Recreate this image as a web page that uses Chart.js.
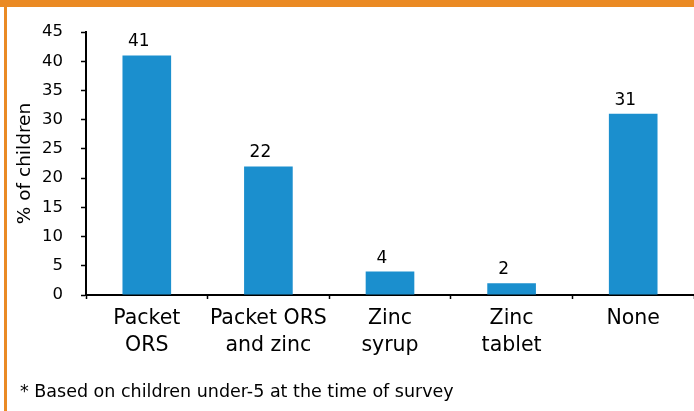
<!DOCTYPE html>
<html>
<head>
<meta charset="utf-8">
<script src="https://cdn.jsdelivr.net/npm/chart.js@4/dist/chart.umd.min.js"></script>
<style>
  html, body { margin: 0; padding: 0; background: #fff; }
  #wrap { position: relative; width: 694px; height: 411px; overflow: hidden; background: #fff; }
  #c { position: absolute; left: 0; top: 0; }
  #topbar { position: absolute; left: 0; top: 0; width: 694px; height: 7px; background: #ea8a24; }
  #leftbar { position: absolute; left: 4px; top: 0; width: 3px; height: 411px; background: #ea8a24; }
  #note { position: absolute; left: 20px; top: 381px; font-family: "DejaVu Sans", sans-serif; font-size: 17.5px; line-height: 20px; color: #000; white-space: nowrap; }
</style>
</head>
<body>
<div id="wrap">
  <canvas id="c" width="694" height="411"></canvas>
  <div id="topbar"></div>
  <div id="leftbar"></div>
  <div id="note">* Based on children under-5 at the time of survey</div>
</div>
<script>
const categories = [["Packet", "ORS"], ["Packet ORS", "and zinc"], ["Zinc", "syrup"], ["Zinc", "tablet"], "None"];
const values = [41, 22, 4, 2, 31];
const yTicks = [0, 5, 10, 15, 20, 25, 30, 35, 40, 45];
const yTitle = "% of children";

const FONT = '"DejaVu Sans", sans-serif';

const valueLabels = {
  id: 'valueLabels',
  afterDatasetsDraw(chart) {
    const ctx = chart.ctx;
    const meta = chart.getDatasetMeta(0);
    ctx.save();
    ctx.font = '17px ' + FONT;
    ctx.fillStyle = '#000';
    ctx.textAlign = 'center';
    ctx.textBaseline = 'alphabetic';
    meta.data.forEach((bar, i) => {
      ctx.fillText(String(values[i]), bar.x - 8, bar.y - 9);
    });
    ctx.restore();
  }
};

new Chart(document.getElementById('c'), {
  type: 'bar',
  data: {
    labels: categories,
    datasets: [{
      data: values,
      backgroundColor: '#1b8fce',
      borderWidth: 0,
      barPercentage: 0.4,
      categoryPercentage: 1.0
    }]
  },
  options: {
    responsive: false,
    animation: false,
    devicePixelRatio: 1,
    layout: { padding: { top: 32, left: 0, right: 0, bottom: 0 } },
    plugins: { legend: { display: false }, tooltip: { enabled: false } },
    scales: {
      x: {
        grid: { offset: true, drawOnChartArea: false, tickLength: 4, color: '#000', tickWidth: 1.5 },
        border: { color: '#000', width: 2 },
        ticks: {
          color: '#000',
          font: { family: FONT, size: 20.5, lineHeight: 1.32 },
          maxRotation: 0, minRotation: 0, autoSkip: false, padding: 6
        },
        afterFit(scale) { scale.height = 116; }
      },
      y: {
        min: 0, max: 45,
        afterBuildTicks(scale) { scale.ticks = yTicks.map(v => ({ value: v })); },
        grid: { drawOnChartArea: false, tickLength: 5, color: '#000', tickWidth: 1.5 },
        border: { color: '#000', width: 2 },
        ticks: { color: '#000', font: { family: FONT, size: 16.5 }, padding: 18 },
        title: { display: true, text: yTitle, color: '#000', font: { family: FONT, size: 18.5 }, padding: { top: 14, bottom: 0 } },
        afterFit(scale) { scale.width = 86; }
      }
    }
  },
  plugins: [valueLabels]
});
</script>
</body>
</html>
